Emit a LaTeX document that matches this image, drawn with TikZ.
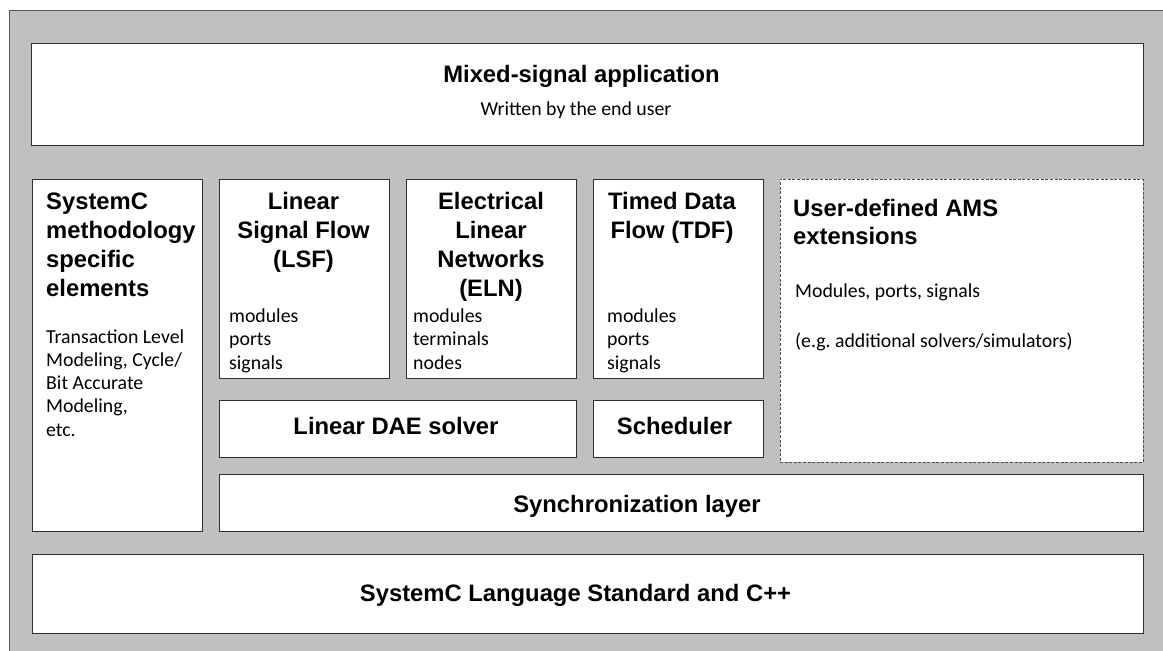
\documentclass[tikz,border=0pt]{standalone}
\usepackage{fontspec}
\setmainfont{Carlito}
\newfontfamily\hdfont{Liberation Sans}
\definecolor{bggray}{HTML}{C0C0C0}
\definecolor{outline}{HTML}{555555}
\definecolor{boxline}{HTML}{303030}
\frenchspacing
\tikzset{
  panel/.style={draw=boxline, fill=white, line width=0.9pt, inner sep=0pt, outer sep=0pt, anchor=north west},
  dashpanel/.style={panel, draw=boxline!85, dash pattern=on 3pt off 1.6pt},
  ttl/.style={font=\hdfont\bfseries\fontsize{23.8}{29}\selectfont, inner sep=0pt, text=black},
  txt/.style={font=\frenchspacing\fontsize{19.8}{23.3}\selectfont, inner sep=0pt, text=black},
}
\begin{document}
\begin{tikzpicture}[x=1pt,y=-1pt]
\useasboundingbox (0,0) rectangle (1163,651);
\clip (0,0) rectangle (1163,651);
\fill[white] (0,0) rectangle (1163,651);
\draw[fill=bggray, draw=outline, line width=0.9pt] (9.5,10.5) rectangle (1180,670);

% panels
\node[panel, minimum width=1111.5pt, minimum height=102pt] (app) at (31.5,43.5) {};
\node[panel, minimum width=170pt, minimum height=352pt] (meth) at (32,179) {};
\node[panel, minimum width=170pt, minimum height=199pt] (lsf) at (219,179) {};
\node[panel, minimum width=170pt, minimum height=199pt] (eln) at (406,179) {};
\node[panel, minimum width=170pt, minimum height=199pt] (tdf) at (593,179) {};
\node[dashpanel, minimum width=363pt, minimum height=283pt] (user) at (780,179) {};
\node[panel, minimum width=357pt, minimum height=57pt] (dae) at (219,400) {};
\node[panel, minimum width=170pt, minimum height=57pt] (sched) at (593,400) {};
\node[panel, minimum width=924pt, minimum height=57pt] (sync) at (219,474) {};
\node[panel, minimum width=1111pt, minimum height=79pt] (lang) at (32,554) {};

% texts
\node[ttl, anchor=base] (appt) at (581.5,82) {Mixed-signal application};
\node[txt, anchor=base] (apps) at (576,115.5) {Written by the end user};

\node[ttl, anchor=base west] (metht) at (46,209) {\begin{tabular}[t]{@{}l@{}}SystemC\\methodology\\specific\\elements\end{tabular}};
\node[txt, anchor=base west] (meths) at (46,343) {\begin{tabular}[t]{@{}l@{}}Transaction Level\\Modeling, Cycle/\\Bit Accurate\\Modeling,\\etc.\end{tabular}};

\node[ttl, anchor=base] (lsft) at (303.5,209) {\begin{tabular}[t]{@{}c@{}}Linear\\Signal Flow\\(LSF)\end{tabular}};
\node[txt, anchor=base west] (lsfs) at (229,322.5) {\begin{tabular}[t]{@{}l@{}}modules\\ports\\signals\end{tabular}};

\node[ttl, anchor=base] (elnt) at (491,209) {\begin{tabular}[t]{@{}c@{}}Electrical\\Linear\\Networks\\(ELN)\end{tabular}};
\node[txt, anchor=base west] (elns) at (413,322.5) {\begin{tabular}[t]{@{}l@{}}modules\\terminals\\nodes\end{tabular}};

\node[ttl, anchor=base] (tdft) at (672,209) {\begin{tabular}[t]{@{}c@{}}Timed Data\\Flow (TDF)\end{tabular}};
\node[txt, anchor=base west] (tdfs) at (607,322.5) {\begin{tabular}[t]{@{}l@{}}modules\\ports\\signals\end{tabular}};

\node[ttl, anchor=base west] (usert) at (793,216.5) {\fontsize{23.8}{27.5}\selectfont\begin{tabular}[t]{@{}l@{}}User-defined AMS\\extensions\end{tabular}};
\node[txt, anchor=base west] (users1) at (795,297.5) {Modules, ports, signals};
\node[txt, anchor=base west] (users2) at (795,347) {(e.g.\ additional solvers/simulators)};

\node[ttl, anchor=base] (daet) at (396,434) {Linear DAE solver};
\node[ttl, anchor=base] (schedt) at (674.5,434) {Scheduler};
\node[ttl, anchor=base] (synct) at (637,512) {Synchronization layer};
\node[ttl, anchor=base] (langt) at (575.5,601) {SystemC Language Standard and C++};
\end{tikzpicture}
\end{document}
